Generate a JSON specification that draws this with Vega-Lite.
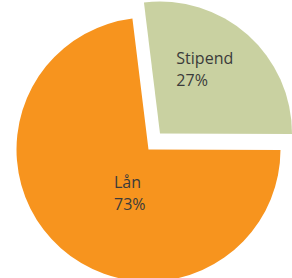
{
  "$schema": "https://vega.github.io/schema/vega-lite/v6.json",
  "width": 292,
  "height": 278,
  "autosize": {"type": "fit", "contains": "padding"},
  "padding": 0,
  "background": "white",
  "config": {"view": {"stroke": null}},
  "data": {"values": [
    {"category": "Stipend", "value": 27, "ord": 1, "label": "Stipend\n27%"},
    {"category": "Lån", "value": 73, "ord": 2, "label": "Lån\n73%"}
  ]},
  "encoding": {
    "theta": {"field": "value", "type": "quantitative", "stack": true, "scale": {"range": [-0.122, 6.161]}},
    "order": {"field": "ord", "type": "quantitative"},
    "color": {"field": "category", "type": "nominal", "legend": null,
      "scale": {"domain": ["Stipend", "Lån"], "range": ["#C9D1A1", "#F7941E"]}}
  },
  "layer": [
    {
      "mark": {"type": "arc", "outerRadius": 132, "xOffset": 2.5, "yOffset": 14, "stroke": null},
      "encoding": {"opacity": {"condition": {"test": "datum.category === 'Lån'", "value": 1}, "value": 0}}
    },
    {
      "mark": {"type": "arc", "outerRadius": 132, "xOffset": 14, "yOffset": -2, "stroke": null},
      "encoding": {"opacity": {"condition": {"test": "datum.category === 'Stipend'", "value": 1}, "value": 0}}
    },
    {
      "mark": {"type": "text", "radius": 45, "xOffset": 2.5, "yOffset": 14, "dx": -4.6, "dy": 4.5, "align": "left", "baseline": "alphabetic", "lineBreak": "\n", "lineHeight": 22, "font": "Open Sans", "fontSize": 16, "fill": "#3b3b3b"},
      "encoding": {"text": {"field": "label"}, "color": {"value": "#3b3b3b"}, "opacity": {"condition": {"test": "datum.category === 'Lån'", "value": 1}, "value": 0}}
    },
    {
      "mark": {"type": "text", "radius": 60, "xOffset": 14, "yOffset": -2, "dx": -23.5, "dy": -25, "align": "left", "baseline": "alphabetic", "lineBreak": "\n", "lineHeight": 22, "font": "Open Sans", "fontSize": 16, "fill": "#3b3b3b"},
      "encoding": {"text": {"field": "label"}, "color": {"value": "#3b3b3b"}, "opacity": {"condition": {"test": "datum.category === 'Stipend'", "value": 1}, "value": 0}}
    }
  ]
}
